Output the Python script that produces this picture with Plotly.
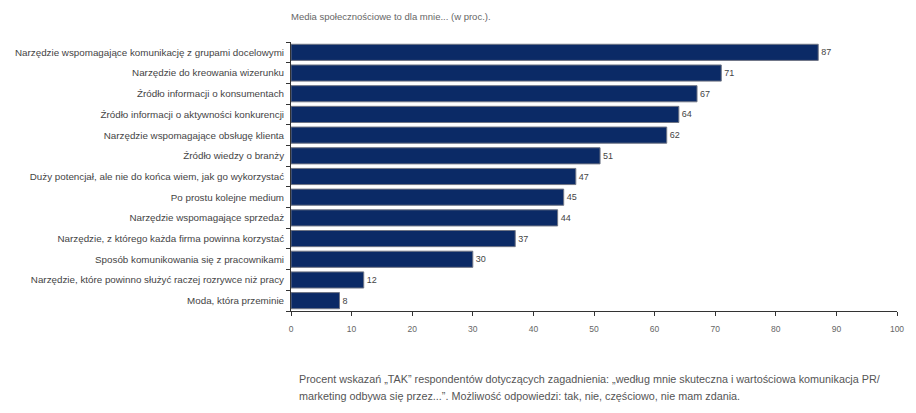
import plotly.graph_objects as go

categories = [
    "Narzędzie wspomagające komunikację z grupami docelowymi",
    "Narzędzie do kreowania wizerunku",
    "Źródło informacji o konsumentach",
    "Źródło informacji o aktywności konkurencji",
    "Narzędzie wspomagające obsługę klienta",
    "Źródło wiedzy o branży",
    "Duży potencjał, ale nie do końca wiem, jak go wykorzystać",
    "Po prostu kolejne medium",
    "Narzędzie wspomagające sprzedaż",
    "Narzędzie, z którego każda firma powinna korzystać",
    "Sposób komunikowania się z pracownikami",
    "Narzędzie, które powinno służyć raczej rozrywce niż pracy",
    "Moda, która przeminie",
]
values = [87, 71, 67, 64, 62, 51, 47, 45, 44, 37, 30, 12, 8]
x_ticks = [0, 10, 20, 30, 40, 50, 60, 70, 80, 90, 100]

title_text = "Media społecznościowe to dla mnie... (w proc.)."
note_lines = [
    "Procent wskazań „TAK” respondentów dotyczących zagadnienia: „według mnie skuteczna i wartościowa komunikacja PR/",
    "marketing odbywa się przez...”. Możliwość odpowiedzi: tak, nie, częściowo, nie mam zdania.",
]

font_family = "Liberation Sans, Arial, sans-serif"

fig = go.Figure(
    go.Bar(
        x=values,
        y=categories,
        orientation="h",
        marker=dict(color="#0b2a66", line=dict(color="#6f7585", width=1)),
        width=0.78,
        text=[str(v) for v in values],
        textposition="outside",
        textfont=dict(size=9, color="#444444", family=font_family),
        cliponaxis=False,
    )
)

fig.update_layout(
    width=916,
    height=413,
    margin=dict(l=291, r=12, t=42, b=102),
    paper_bgcolor="white",
    plot_bgcolor="white",
    showlegend=False,
    font=dict(family=font_family, color="#444444"),
    title=dict(
        text=title_text,
        x=291 / 916,
        xanchor="left",
        y=1 - 17 / 413,
        yanchor="middle",
        font=dict(size=9.5, color="#666666", family=font_family),
    ),
)

fig.update_xaxes(
    range=[0, 100],
    tickvals=x_ticks,
    ticktext=[str(t) for t in x_ticks],
    showgrid=False,
    zeroline=False,
    showline=True,
    linecolor="#333333",
    linewidth=1,
    ticks="outside",
    ticklen=4,
    tickcolor="#333333",
    tickfont=dict(size=8.5, color="#666666"),
    ticklabelstandoff=6,
)

fig.update_yaxes(
    categoryorder="array",
    categoryarray=categories[::-1],
    showgrid=False,
    showline=True,
    linecolor="#333333",
    linewidth=1,
    ticks="outside",
    tickson="boundaries",
    ticklen=4,
    tickcolor="#333333",
    tickfont=dict(size=9.8, color="#444444"),
    ticklabelstandoff=4,
)

for i, line in enumerate(note_lines):
    fig.add_annotation(
        text=line,
        xref="paper",
        yref="paper",
        x=(297 - 291) / (916 - 291 - 12),
        xanchor="left",
        y=-(379 + 17 * i - 311) / (413 - 42 - 102),
        yanchor="middle",
        showarrow=False,
        font=dict(size=10.8, color="#555555", family=font_family),
    )

fig.write_html("out.html")
